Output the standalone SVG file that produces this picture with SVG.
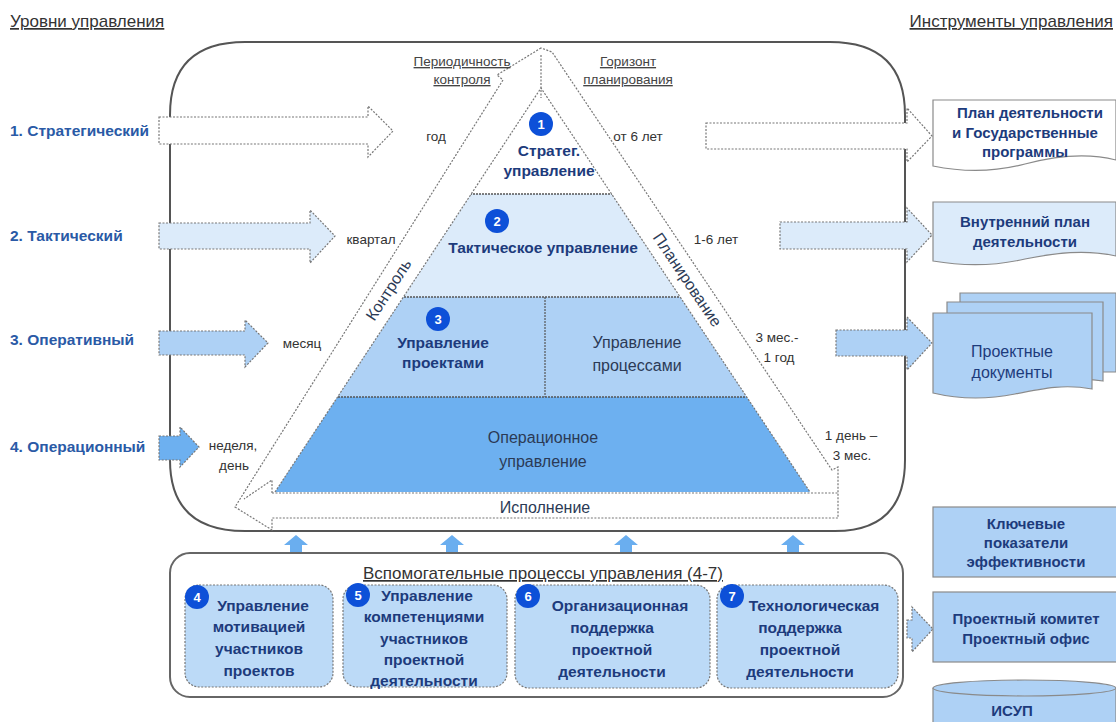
<svg xmlns="http://www.w3.org/2000/svg" width="1116" height="722" viewBox="0 0 1116 722">
<style>
  text { font-family: "Liberation Sans", Arial, sans-serif; }
  .ttl { font-size: 17px; fill: #333; text-decoration: underline; }
  .lvl { font-size: 15.5px; font-weight: bold; fill: #2a5aa6; }
  .per { font-size: 13.5px; fill: #333; text-anchor: middle; }
  .sub { font-size: 13.5px; fill: #444; text-anchor: middle; text-decoration: underline; }
  .nav { font-size: 15.5px; font-weight: bold; fill: #1d3b7c; text-anchor: middle; }
  .nrm { font-size: 16px; fill: #2b3a55; text-anchor: middle; }
  .num { font-size: 13px; font-weight: bold; fill: #fff; text-anchor: middle; }
  .rt { font-size: 15px; font-weight: bold; fill: #1d3b7c; text-anchor: middle; }
  .dash { stroke: #777; stroke-width: 1.2; stroke-dasharray: 2 1.5; }
  .frame { fill: none; stroke: #555; stroke-width: 2; }
  .circ { fill: #0d50d8; }
  .doc { stroke: #8a8a8a; stroke-width: 1.2; }
  .w { fill: #ffffff; }
  .b1 { fill: #dcebfa; }
  .b2 { fill: #aed1f5; }
  .b3 { fill: #6db0f0; }
  .bx { fill: #bcdaf7; }
</style>
<defs>
  <clipPath id="pyr">
    <polygon points="541,88 810,492 275,492"/>
  </clipPath>
</defs>
<rect width="1116" height="722" fill="#ffffff"/>

<!-- titles -->
<text class="ttl" x="10" y="27">Уровни управления</text>
<text class="ttl" x="1113" y="27" text-anchor="end">Инструменты управления</text>

<!-- main frame -->
<g id="main-frame">
  <path class="frame" d="M245,42 H830 Q905,42 905,115 V460 Q905,531 835,531 H245 Q170,531 170,460 V115 Q170,42 245,42 Z"/>
</g>

<!-- cycle band -->
<g id="cycle">
  <path class="w dash" d="M541,48 L497,75 L503,80 L235,507 L272,530 L272,518 L838,518 L838,467 L832,470 L552,52 Z"/>
</g>

<!-- pyramid -->
<g id="pyramid">
  <g clip-path="url(#pyr)">
    <rect x="260" y="80" width="570" height="114" class="w"/>
    <rect x="260" y="194" width="570" height="103" class="b1"/>
    <rect x="260" y="297" width="570" height="100" class="b2"/>
    <rect x="260" y="397" width="570" height="95" class="b3"/>
    <line x1="260" y1="194" x2="830" y2="194" stroke="#555" stroke-width="1.5" stroke-dasharray="2 1"/>
    <line x1="260" y1="297" x2="830" y2="297" stroke="#555" stroke-width="1.5" stroke-dasharray="2 1"/>
    <line x1="260" y1="397" x2="830" y2="397" stroke="#555" stroke-width="1.5" stroke-dasharray="2 1"/>
    <line x1="545" y1="297" x2="545" y2="397" stroke="#555" stroke-width="1.2" stroke-dasharray="2 1"/>
  </g>
  <polyline points="275,492 541,88 810,492" fill="none" class="dash"/>
  <line x1="272" y1="493" x2="838" y2="493" class="dash"/>
  <line x1="541" y1="55" x2="541" y2="98" class="dash"/>
  <polyline points="272,493 272,480 244,499" fill="none" class="dash"/>
</g>

<!-- pyramid labels -->
<g id="lvl1-node">
  <circle class="circ" cx="541" cy="124" r="12"/>
  <text class="num" x="541" y="129">1</text>
  <text class="nav" x="549" y="156">Стратег.</text>
  <text class="nav" x="549" y="176">управление</text>
</g>
<g id="lvl2-node">
  <circle class="circ" cx="497" cy="221" r="12"/>
  <text class="num" x="497" y="226">2</text>
  <text class="nav" x="543" y="253">Тактическое управление</text>
</g>
<g id="lvl3-node">
  <circle class="circ" cx="438" cy="319" r="12"/>
  <text class="num" x="438" y="324">3</text>
  <text class="nav" x="443" y="348">Управление</text>
  <text class="nav" x="443" y="368">проектами</text>
</g>
<g id="proc-node">
  <text class="nrm" x="637" y="348">Управление</text>
  <text class="nrm" x="637" y="371">процессами</text>
</g>
<g id="lvl4-node">
  <text class="nrm" x="543" y="443">Операционное</text>
  <text class="nrm" x="543" y="467">управление</text>
</g>

<!-- band labels -->
<text class="nrm" x="389" y="295" transform="rotate(-57 389 290)">Контроль</text>
<text class="nrm" x="687" y="285" transform="rotate(56 687 280)">Планирование</text>
<text class="nrm" x="545" y="513">Исполнение</text>
<text class="sub" x="462" y="66">Периодичность</text>
<text class="sub" x="462" y="84">контроля</text>
<text class="sub" x="628" y="66">Горизонт</text>
<text class="sub" x="628" y="84">планирования</text>

<!-- periods -->
<text class="per" x="436" y="141">год</text>
<text class="per" x="638" y="141">от 6 лет</text>
<text class="per" x="371" y="244">квартал</text>
<text class="per" x="716" y="244">1-6 лет</text>
<text class="per" x="302" y="348">месяц</text>
<text class="per" x="777" y="342">3 мес.-</text>
<text class="per" x="779" y="362">1 год</text>
<text class="per" x="233" y="450">неделя,</text>
<text class="per" x="234" y="470">день</text>
<text class="per" x="851" y="440">1 день –</text>
<text class="per" x="852" y="460">3 мес.</text>

<!-- level labels -->
<g id="level1"><text class="lvl" x="10" y="136">1. Стратегический</text></g>
<g id="level2"><text class="lvl" x="10" y="241">2. Тактический</text></g>
<g id="level3"><text class="lvl" x="10" y="345">3. Оперативный</text></g>
<g id="level4"><text class="lvl" x="10" y="452">4. Операционный</text></g>

<!-- connectors: block arrows -->
<g id="connectors">
  <polygon class="w dash" points="159,117 368,117 368,106 393,131 368,157 368,144 159,144"/>
  <polygon class="b1 dash" points="159,223 310,223 310,210 335,236 310,263 310,249 159,249"/>
  <polygon class="b2 dash" points="159,331 245,331 245,320 268,343 245,367 245,355 159,355"/>
  <polygon class="b3 dash" points="159,436 180,436 180,427 199,447 180,467 180,460 159,460"/>

  <polygon class="w dash" points="706,123 907,123 907,108 932,136 907,162 907,149 706,149"/>
  <polygon class="b1 dash" points="780,222 907,222 907,208 932,235 907,262 907,249 780,249"/>
  <polygon class="b2 dash" points="836,330 907,330 907,317 932,343 907,370 907,356 836,356"/>

  <polygon class="b2 dash" points="907,620 912,620 912,607 933,629 912,652 912,638 907,638"/>

  <polygon fill="#6aaeef" points="290,553 290,545 284,545 296,535 308,545 302,545 302,553"/>
  <polygon fill="#6aaeef" points="446,553 446,545 440,545 452,535 464,545 458,545 458,553"/>
  <polygon fill="#6aaeef" points="620,553 620,545 614,545 626,535 638,545 632,545 632,553"/>
  <polygon fill="#6aaeef" points="787,553 787,545 781,545 793,535 805,545 799,545 799,553"/>
</g>

<!-- instruments -->
<g id="doc-plan">
  <path class="w doc" d="M933,100 H1116 V160 C1085,152 1055,156 1025,164 C995,172 962,172 933,166 Z"/>
  <text class="rt" x="1030" y="118">План деятельности</text>
  <text class="rt" x="1025" y="138">и Государственные</text>
  <text class="rt" x="1025" y="157">программы</text>
</g>
<g id="doc-inner">
  <path class="b1 doc" d="M933,202 H1116 V256 C1085,249 1055,253 1025,259 C995,266 962,266 933,261 Z"/>
  <text class="rt" x="1025" y="227">Внутренний план</text>
  <text class="rt" x="1025" y="247">деятельности</text>
</g>
<g id="doc-project">
  <path class="b2 doc" d="M960,293 H1116 V372 H960 Z"/>
  <path class="b2 doc" d="M947,302 H1103 V381 C1080,377 1060,381 1035,386 C1005,392 975,391 947,386 Z"/>
  <path class="b2 doc" d="M933,313 H1092 V389 C1065,384 1045,388 1015,394 C985,400 958,399 933,393 Z"/>
  <text class="rt" x="1012" y="357" style="font-weight:normal;font-size:16px">Проектные</text>
  <text class="rt" x="1012" y="378" style="font-weight:normal;font-size:16px">документы</text>
</g>
<g id="kpi">
  <rect class="b2 doc" x="933" y="507" width="190" height="70"/>
  <text class="rt" x="1026" y="529">Ключевые</text>
  <text class="rt" x="1026" y="548">показатели</text>
  <text class="rt" x="1026" y="567">эффективности</text>
</g>
<g id="committee">
  <rect class="b2 doc" x="933" y="592" width="190" height="70"/>
  <text class="rt" x="1026" y="624">Проектный комитет</text>
  <text class="rt" x="1026" y="644">Проектный офис</text>
</g>
<g id="isup">
  <path class="b2 doc" d="M933,688 V730 H1116 V688"/>
  <ellipse class="b2 doc" cx="1024.5" cy="688" rx="91.5" ry="8"/>
  <text class="rt" x="1012" y="716">ИСУП</text>
</g>

<!-- support processes -->
<g id="support">
  <rect x="170" y="553" width="733" height="144" rx="20" fill="#fff" stroke="#666" stroke-width="2"/>
  <text x="543" y="579" style="font-size:17px;fill:#333;text-anchor:middle;text-decoration:underline">Вспомогательные процессы управления (4-7)</text>
</g>
<g id="sp4">
  <rect class="bx dash" x="185" y="585" width="148" height="102" rx="14"/>
  <circle class="circ" cx="197" cy="597" r="12"/>
  <text class="num" x="197" y="602">4</text>
  <text class="nav" x="263" y="611">Управление</text>
  <text class="nav" x="259" y="632">мотивацией</text>
  <text class="nav" x="259" y="654">участников</text>
  <text class="nav" x="259" y="676">проектов</text>
</g>
<g id="sp5">
  <rect class="bx dash" x="343" y="585" width="164" height="102" rx="14"/>
  <circle class="circ" cx="358" cy="595" r="12"/>
  <text class="num" x="358" y="600">5</text>
  <text class="nav" x="427" y="601">Управление</text>
  <text class="nav" x="424" y="622">компетенциями</text>
  <text class="nav" x="424" y="644">участников</text>
  <text class="nav" x="424" y="665">проектной</text>
  <text class="nav" x="424" y="686">деятельности</text>
</g>
<g id="sp6">
  <rect class="bx dash" x="515" y="585" width="195" height="103" rx="14"/>
  <circle class="circ" cx="528" cy="596" r="12"/>
  <text class="num" x="528" y="601">6</text>
  <text class="nav" x="620" y="611">Организационная</text>
  <text class="nav" x="612" y="633">поддержка</text>
  <text class="nav" x="612" y="655">проектной</text>
  <text class="nav" x="612" y="677">деятельности</text>
</g>
<g id="sp7">
  <rect class="bx dash" x="717" y="585" width="181" height="103" rx="14"/>
  <circle class="circ" cx="732" cy="596" r="12"/>
  <text class="num" x="732" y="601">7</text>
  <text class="nav" x="814" y="611">Технологическая</text>
  <text class="nav" x="800" y="633">поддержка</text>
  <text class="nav" x="800" y="655">проектной</text>
  <text class="nav" x="800" y="677">деятельности</text>
</g>
</svg>
